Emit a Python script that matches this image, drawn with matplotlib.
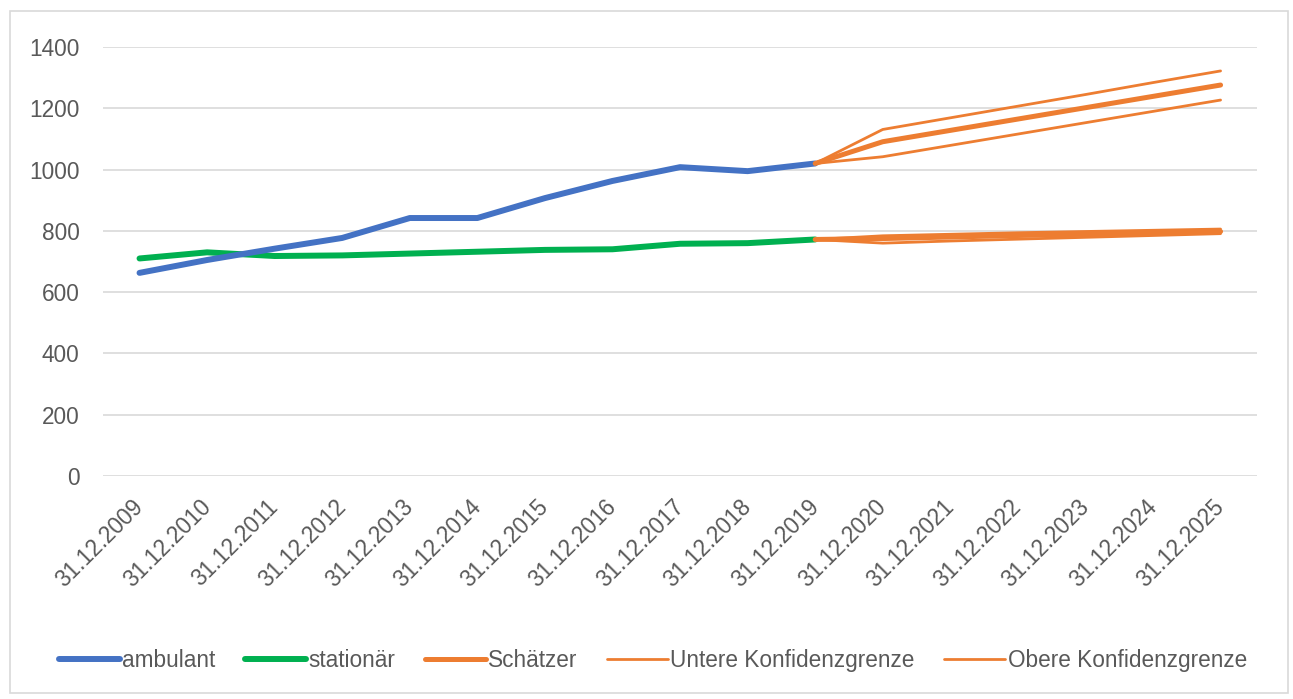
import numpy as np
import matplotlib.pyplot as plt
from matplotlib.patches import Rectangle

plt.rcParams['font.family'] = ['Liberation Sans', 'DejaVu Sans']

years = list(range(2009, 2026))
labels = [f"31.12.{y}" for y in years]
nan = np.nan

ambulant = [663, 705, 742, 777, 842, 842, 907, 963, 1008, 995, 1020,
            nan, nan, nan, nan, nan, nan]
stationaer = [710, 730, 718, 720, 726, 732, 738, 740, 758, 760, 772,
              nan, nan, nan, nan, nan, nan]

amb_est = [nan] * 10 + [1020, 1091, 1128, 1165, 1202, 1239, 1276]
amb_low = [nan] * 10 + [1020, 1042, 1079, 1116, 1153, 1190, 1227]
amb_up = [nan] * 10 + [1020, 1131, 1169, 1207, 1245, 1284, 1322]

sta_est = [nan] * 10 + [772, 775, 780, 785, 789, 794, 798]
sta_low = [nan] * 10 + [772, 760, 767, 773, 779, 785, 791]
sta_up = [nan] * 10 + [772, 784, 789, 794, 798, 802, 806]

blue = "#4472C4"
green = "#00B050"
orange = "#ED7D31"
grey = "#595959"

fig = plt.figure(figsize=(12.93, 6.99), dpi=100)
ax = fig.add_axes([0.0797, 0.319, 0.8925, 0.6137])
x = np.arange(len(years))

ax.plot(x, stationaer, color=green, lw=4.3, solid_capstyle='round', label="stationär")
ax.plot(x, ambulant, color=blue, lw=4.3, solid_capstyle='round', label="ambulant")
ax.plot(x, amb_est, color=orange, lw=3.6, solid_capstyle='round', label="Schätzer")
ax.plot(x, amb_low, color=orange, lw=2.0, solid_capstyle='round', label="Untere Konfidenzgrenze")
ax.plot(x, amb_up, color=orange, lw=2.0, solid_capstyle='round', label="Obere Konfidenzgrenze")
ax.plot(x, sta_est, color=orange, lw=3.6, solid_capstyle='round')
ax.plot(x, sta_low, color=orange, lw=2.0, solid_capstyle='round')
ax.plot(x, sta_up, color=orange, lw=2.0, solid_capstyle='round')

ax.set_xlim(-0.54, len(years) - 0.46)
ax.set_ylim(0, 1400)
ax.set_yticks(range(0, 1401, 200))
ax.yaxis.grid(True, color="#D9D9D9", lw=1.2)
ax.set_axisbelow(True)
for s in ax.spines.values():
    s.set_visible(False)
ax.tick_params(axis='both', length=0, colors=grey, labelsize=16.3)
ax.tick_params(axis='y', pad=17)
ax.tick_params(axis='x', pad=20)
ax.set_xticks(x)
ax.set_xticklabels(labels, rotation=45, ha='right', va='center',
                   rotation_mode='anchor')

fig.patches.append(Rectangle((10 / 1293, 6 / 699), 1278 / 1293, 682 / 699,
                             transform=fig.transFigure, fill=False,
                             edgecolor="#D9D9D9", lw=1.2))

h, l = ax.get_legend_handles_labels()
order = [1, 0, 2, 3, 4]
leg = fig.legend([h[i] for i in order], [l[i] for i in order],
                 loc='center', bbox_to_anchor=(0.505, 0.055), ncol=5,
                 frameon=False, fontsize=16.3, handlelength=2.7,
                 handletextpad=0.1, columnspacing=1.3, labelcolor=grey)

fig.savefig("out.png", dpi=100)
